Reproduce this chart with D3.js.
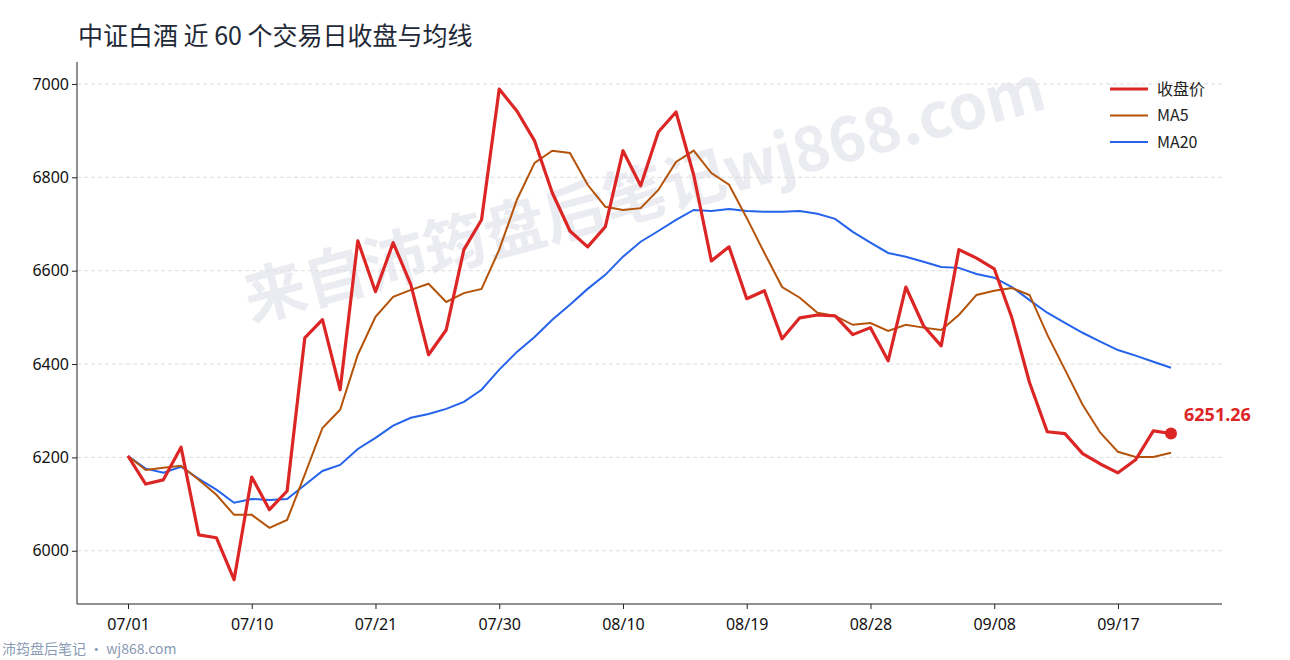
<!DOCTYPE html>
<html><head><meta charset="utf-8">
<script src="https://cdn.jsdelivr.net/npm/d3@7"></script>
<style>body{margin:0;background:#fff;font-family:"Noto Sans CJK SC","Noto Sans",sans-serif}</style>
</head><body><svg id="c" width="1290" height="660"></svg>
<script>
const tickLabels=["07/01","07/10","07/21","07/30","08/10","08/19","08/28","09/08","09/17"];
const close=[6203,6143,6152,6222,6034,6028,5938,6158,6088,6128,6456,6495,6345,6664,6555,6660,6570,6420,6473,6645,6709,6989,6942,6878,6767,6685,6651,6694,6857,6782,6897,6940,6805,6621,6651,6540,6557,6454,6499,6505,6503,6463,6478,6407,6565,6482,6439,6645,6627,6604,6499,6360,6255,6251,6208,6186,6167,6195,6257,6251.26];
const ma5=[6203,6173,6178,6182,6152,6120,6077,6077,6049,6066,6163,6263,6302,6420,6501,6544,6559,6572,6533,6552,6561,6645,6752,6831,6857,6852,6784,6737,6730,6734,6773,6833,6857,6809,6784,6713,6638,6565,6542,6510,6503,6484,6488,6471,6484,6478,6473,6505,6548,6557,6563,6548,6463,6388,6313,6253,6212,6201,6201,6210];
const ma20=[6203,6176,6167,6180,6154,6131,6103,6111,6109,6111,6141,6171,6184,6218,6242,6268,6285,6293,6304,6319,6345,6388,6426,6458,6495,6527,6561,6591,6630,6662,6685,6709,6730,6728,6732,6728,6726,6726,6728,6722,6711,6683,6660,6638,6630,6619,6608,6606,6593,6585,6565,6537,6510,6488,6467,6448,6430,6418,6405,6392];
const yTicks=[6000,6200,6400,6600,6800,7000];

const svg=d3.select("#c");
const x=d3.scaleLinear().domain([0,59]).range([128,1171]);
const y=d3.scaleLinear().domain([5886,7047]).range([604,62]);
const L=77,R=1222;
svg.append("text").attr("transform","translate(650,215) rotate(-15)").attr("text-anchor","middle")
 .attr("font-size",62).attr("font-weight","bold").attr("fill","#dfe1ea").attr("opacity",0.6)
 .text("来自沛筠盘后笔记wj868.com");
svg.append("g").selectAll("line").data(yTicks).join("line")
 .attr("x1",L).attr("x2",R).attr("y1",d=>y(d)).attr("y2",d=>y(d))
 .attr("stroke","#ddd").attr("stroke-dasharray","4,3");
const ya=svg.append("g").attr("transform",`translate(${L},0)`).call(d3.axisLeft(y).tickValues(yTicks).tickSize(5).tickFormat(d3.format("d")));
const xa=svg.append("g").attr("transform",`translate(0,604)`).call(d3.axisBottom(x).tickValues(tickLabels.map((d,i)=>i*7)).tickSize(5).tickFormat((d,i)=>tickLabels[i]));
xa.select(".domain").attr("d",`M${L},0H${R}`);
ya.select(".domain").attr("d",`M0,${y(5886)}V${y(7047)}`);
[ya,xa].forEach(g=>{g.selectAll("text").attr("font-size",16).attr("fill","#111").attr("font-family","Noto Sans");g.selectAll("line,path").attr("stroke","#222")});
xa.selectAll("text").attr("dy","1.1em");
const line=d3.line().x((d,i)=>x(i)).y(d=>y(d));
svg.append("path").datum(ma20).attr("d",line).attr("fill","none").attr("stroke","#2563eb").attr("stroke-width",2);
svg.append("path").datum(ma5).attr("d",line).attr("fill","none").attr("stroke","#b45309").attr("stroke-width",2);
svg.append("path").datum(close).attr("d",line).attr("fill","none").attr("stroke","#dc2626").attr("stroke-width",3.2).attr("stroke-linejoin","round");
svg.append("circle").attr("cx",x(59)).attr("cy",y(close[59])).attr("r",6).attr("fill","#dc2626");
svg.append("text").attr("x",x(59)+13).attr("y",y(close[59])-12).attr("font-size",18).attr("font-weight","bold").attr("fill","#dc2626").attr("font-family","Noto Sans").text(close[59].toFixed(2));
const leg=[["收盘价","#dc2626",3.2],["MA5","#b45309",2],["MA20","#2563eb",2]];
leg.forEach((d,i)=>{const yy=89+i*26.5;
 svg.append("line").attr("x1",1110).attr("x2",1148).attr("y1",yy).attr("y2",yy).attr("stroke",d[1]).attr("stroke-width",d[2]);
 svg.append("text").attr("x",1157).attr("y",yy+5.5).attr("font-size",16).attr("fill","#222").text(d[0]);});
svg.append("text").attr("x",78).attr("y",45).attr("font-size",25).attr("fill","#1f2937").text("中证白酒 近 60 个交易日收盘与均线");
svg.append("text").attr("x",2).attr("y",654).attr("font-size",14).attr("fill","#8a9ab5").text("沛筠盘后笔记 · wj868.com");
</script></body></html>
